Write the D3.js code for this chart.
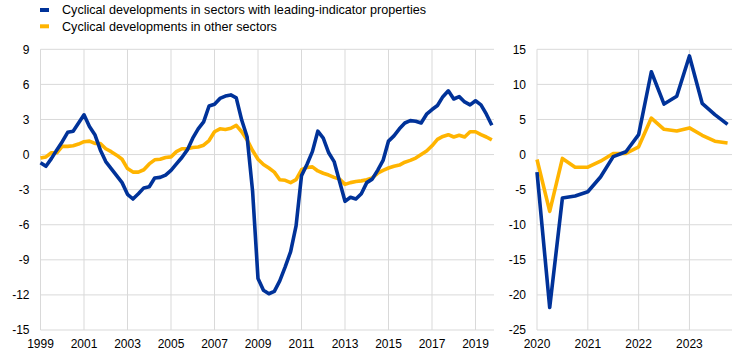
<!DOCTYPE html>
<html>
<head>
<meta charset="utf-8">
<script src="https://cdn.jsdelivr.net/npm/d3@7"></script>
<style>
  html, body { margin: 0; padding: 0; background: #fff; }
  svg { display: block; font-family: "Liberation Sans", Arial, sans-serif; }
</style>
</head>
<body>
<svg id="chart" width="744" height="357"></svg>
<script>
// ---- Data ----
const seriesNames = [
  "Cyclical developments in sectors with leading-indicator properties",
  "Cyclical developments in other sectors"
];

// Left panel: quarterly, 1999 Q1 – 2019 Q4
const leftStartYear = 1999;
const leftLeading = [
  -0.7, -1.0, -0.35, 0.4, 1.1, 1.9, 2.0, 2.7,
  3.4, 2.4, 1.7, 0.4, -0.6, -1.2, -1.8, -2.4,
  -3.4, -3.8, -3.35, -2.85, -2.75, -2.0, -1.95, -1.75,
  -1.35, -0.8, -0.25, 0.4, 1.4, 2.2, 2.8, 4.15,
  4.3, 4.8, 5.0, 5.1, 4.85, 2.95, 1.5, -3.1,
  -10.6, -11.6, -11.9, -11.7, -10.8, -9.6, -8.3, -6.1,
  -1.8, -0.85, 0.25, 2.0, 1.4, 0.15, -0.6, -2.3,
  -4.0, -3.65, -3.8, -3.35, -2.4, -2.1, -1.35, -0.5,
  1.15, 1.6, 2.2, 2.7, 2.9, 2.85, 2.7, 3.45,
  3.85, 4.2, 4.95, 5.45, 4.75, 4.95, 4.5, 4.25,
  4.6, 4.25, 3.45, 2.5
];
const leftOther = [
  -0.3, -0.2, 0.15, 0.15, 0.7, 0.7, 0.75, 0.9,
  1.1, 1.15, 0.95, 0.95, 0.5, 0.25, -0.05, -0.4,
  -1.2, -1.5, -1.5, -1.3, -0.8, -0.45, -0.4, -0.25,
  -0.2, 0.25, 0.5, 0.5, 0.6, 0.65, 0.8, 1.2,
  1.95, 2.2, 2.15, 2.25, 2.5, 1.95, 1.25, 0.35,
  -0.4, -0.85, -1.15, -1.5, -2.15, -2.2, -2.4, -2.15,
  -1.3, -1.1, -1.05, -1.4, -1.6, -1.75, -1.95, -2.1,
  -2.55, -2.4, -2.3, -2.25, -2.15, -2.0, -1.6, -1.35,
  -1.15, -1.0, -0.9, -0.65, -0.5, -0.3, 0.0, 0.3,
  0.75, 1.3, 1.55, 1.7, 1.5, 1.65, 1.5, 1.95,
  1.95, 1.7, 1.5, 1.25
];
const leftYTicks = [9, 6, 3, 0, -3, -6, -9, -12, -15];
const leftXLabels = ["1999", "2001", "2003", "2005", "2007", "2009", "2011", "2013", "2015", "2017", "2019"];

// Right panel: quarterly, 2020 Q1 – 2023 Q4
const rightLeading = [
  -2.5, -21.8, -6.2, -5.9, -5.3, -3.2, -0.3, 0.4,
  2.85, 11.8, 7.2, 8.3, 14.05, 7.3, 5.7, 4.3
];
const rightOther = [
  -0.7, -8.1, -0.55, -1.8, -1.8, -0.95, 0.15, 0.15,
  1.1, 5.2, 3.6, 3.35, 3.8, 2.75, 1.9, 1.65
];
const rightYTicks = [15, 10, 5, 0, -5, -10, -15, -20, -25];
const rightXLabels = ["2020", "2021", "2022", "2023"];

const colors = ["#003299", "#FFB400"];

// ---- Drawing ----
const svg = d3.select("#chart");
const gridColor = "#d9d9d9";
const textColor = "#000";
const fontSize = 12;

function panel(cfg) {
  const x = d3.scaleLinear().domain(cfg.xDomain).range(cfg.xRange);
  const y = d3.scaleLinear().domain(cfg.yDomain).range([330, 49.3]);
  const g = svg.append("g");

  // horizontal grid
  g.selectAll("line.h").data(cfg.yTicks).join("line")
    .attr("x1", cfg.xRange[0]).attr("x2", cfg.xRange[1])
    .attr("y1", d => y(d)).attr("y2", d => y(d))
    .attr("stroke", gridColor).attr("stroke-width", 1);

  // vertical grid at labelled quarters
  const vIdx = cfg.xLabels.map((_, k) => k * cfg.labelStep);
  g.selectAll("line.v").data(vIdx).join("line")
    .attr("x1", d => x(d)).attr("x2", d => x(d))
    .attr("y1", y(cfg.yDomain[1])).attr("y2", y(cfg.yDomain[0]))
    .attr("stroke", gridColor).attr("stroke-width", 1);

  // y tick labels
  g.selectAll("text.y").data(cfg.yTicks).join("text")
    .attr("x", cfg.xRange[0] - 11)
    .attr("y", d => y(d))
    .attr("dy", "0.35em")
    .attr("text-anchor", "end")
    .attr("font-size", fontSize)
    .attr("fill", textColor)
    .text(d => d);

  // x tick labels
  g.selectAll("text.x").data(cfg.xLabels).join("text")
    .attr("x", (d, k) => x(k * cfg.labelStep))
    .attr("y", 348)
    .attr("text-anchor", "middle")
    .attr("font-size", fontSize)
    .attr("fill", textColor)
    .text(d => d);

  const line = d3.line().x((d, i) => x(i)).y(d => y(d));
  [cfg.other, cfg.leading].forEach((s, k) => {
    g.append("path").datum(s)
      .attr("d", line)
      .attr("fill", "none")
      .attr("stroke", k === 0 ? colors[1] : colors[0])
      .attr("stroke-width", 3.6)
      .attr("stroke-linejoin", "round")
      .attr("stroke-linecap", "butt");
  });
}

panel({
  xDomain: [0, 83.4], xRange: [40.5, 494],
  yDomain: [-15, 9], yTicks: leftYTicks,
  xLabels: leftXLabels, labelStep: 8,
  leading: leftLeading, other: leftOther
});

panel({
  xDomain: [0, 15.35], xRange: [537, 732],
  yDomain: [-25, 15], yTicks: rightYTicks,
  xLabels: rightXLabels, labelStep: 4,
  leading: rightLeading, other: rightOther
});

// legend
const legend = svg.append("g");
seriesNames.forEach((name, k) => {
  const cy = 10 + k * 16.3;
  legend.append("rect")
    .attr("x", 40).attr("y", cy - 2).attr("width", 9).attr("height", 4)
    .attr("fill", colors[k]);
  legend.append("text")
    .attr("x", 62).attr("y", cy).attr("dy", "0.35em")
    .attr("font-size", 12.6).attr("fill", textColor)
    .text(name);
});
</script>
</body>
</html>
